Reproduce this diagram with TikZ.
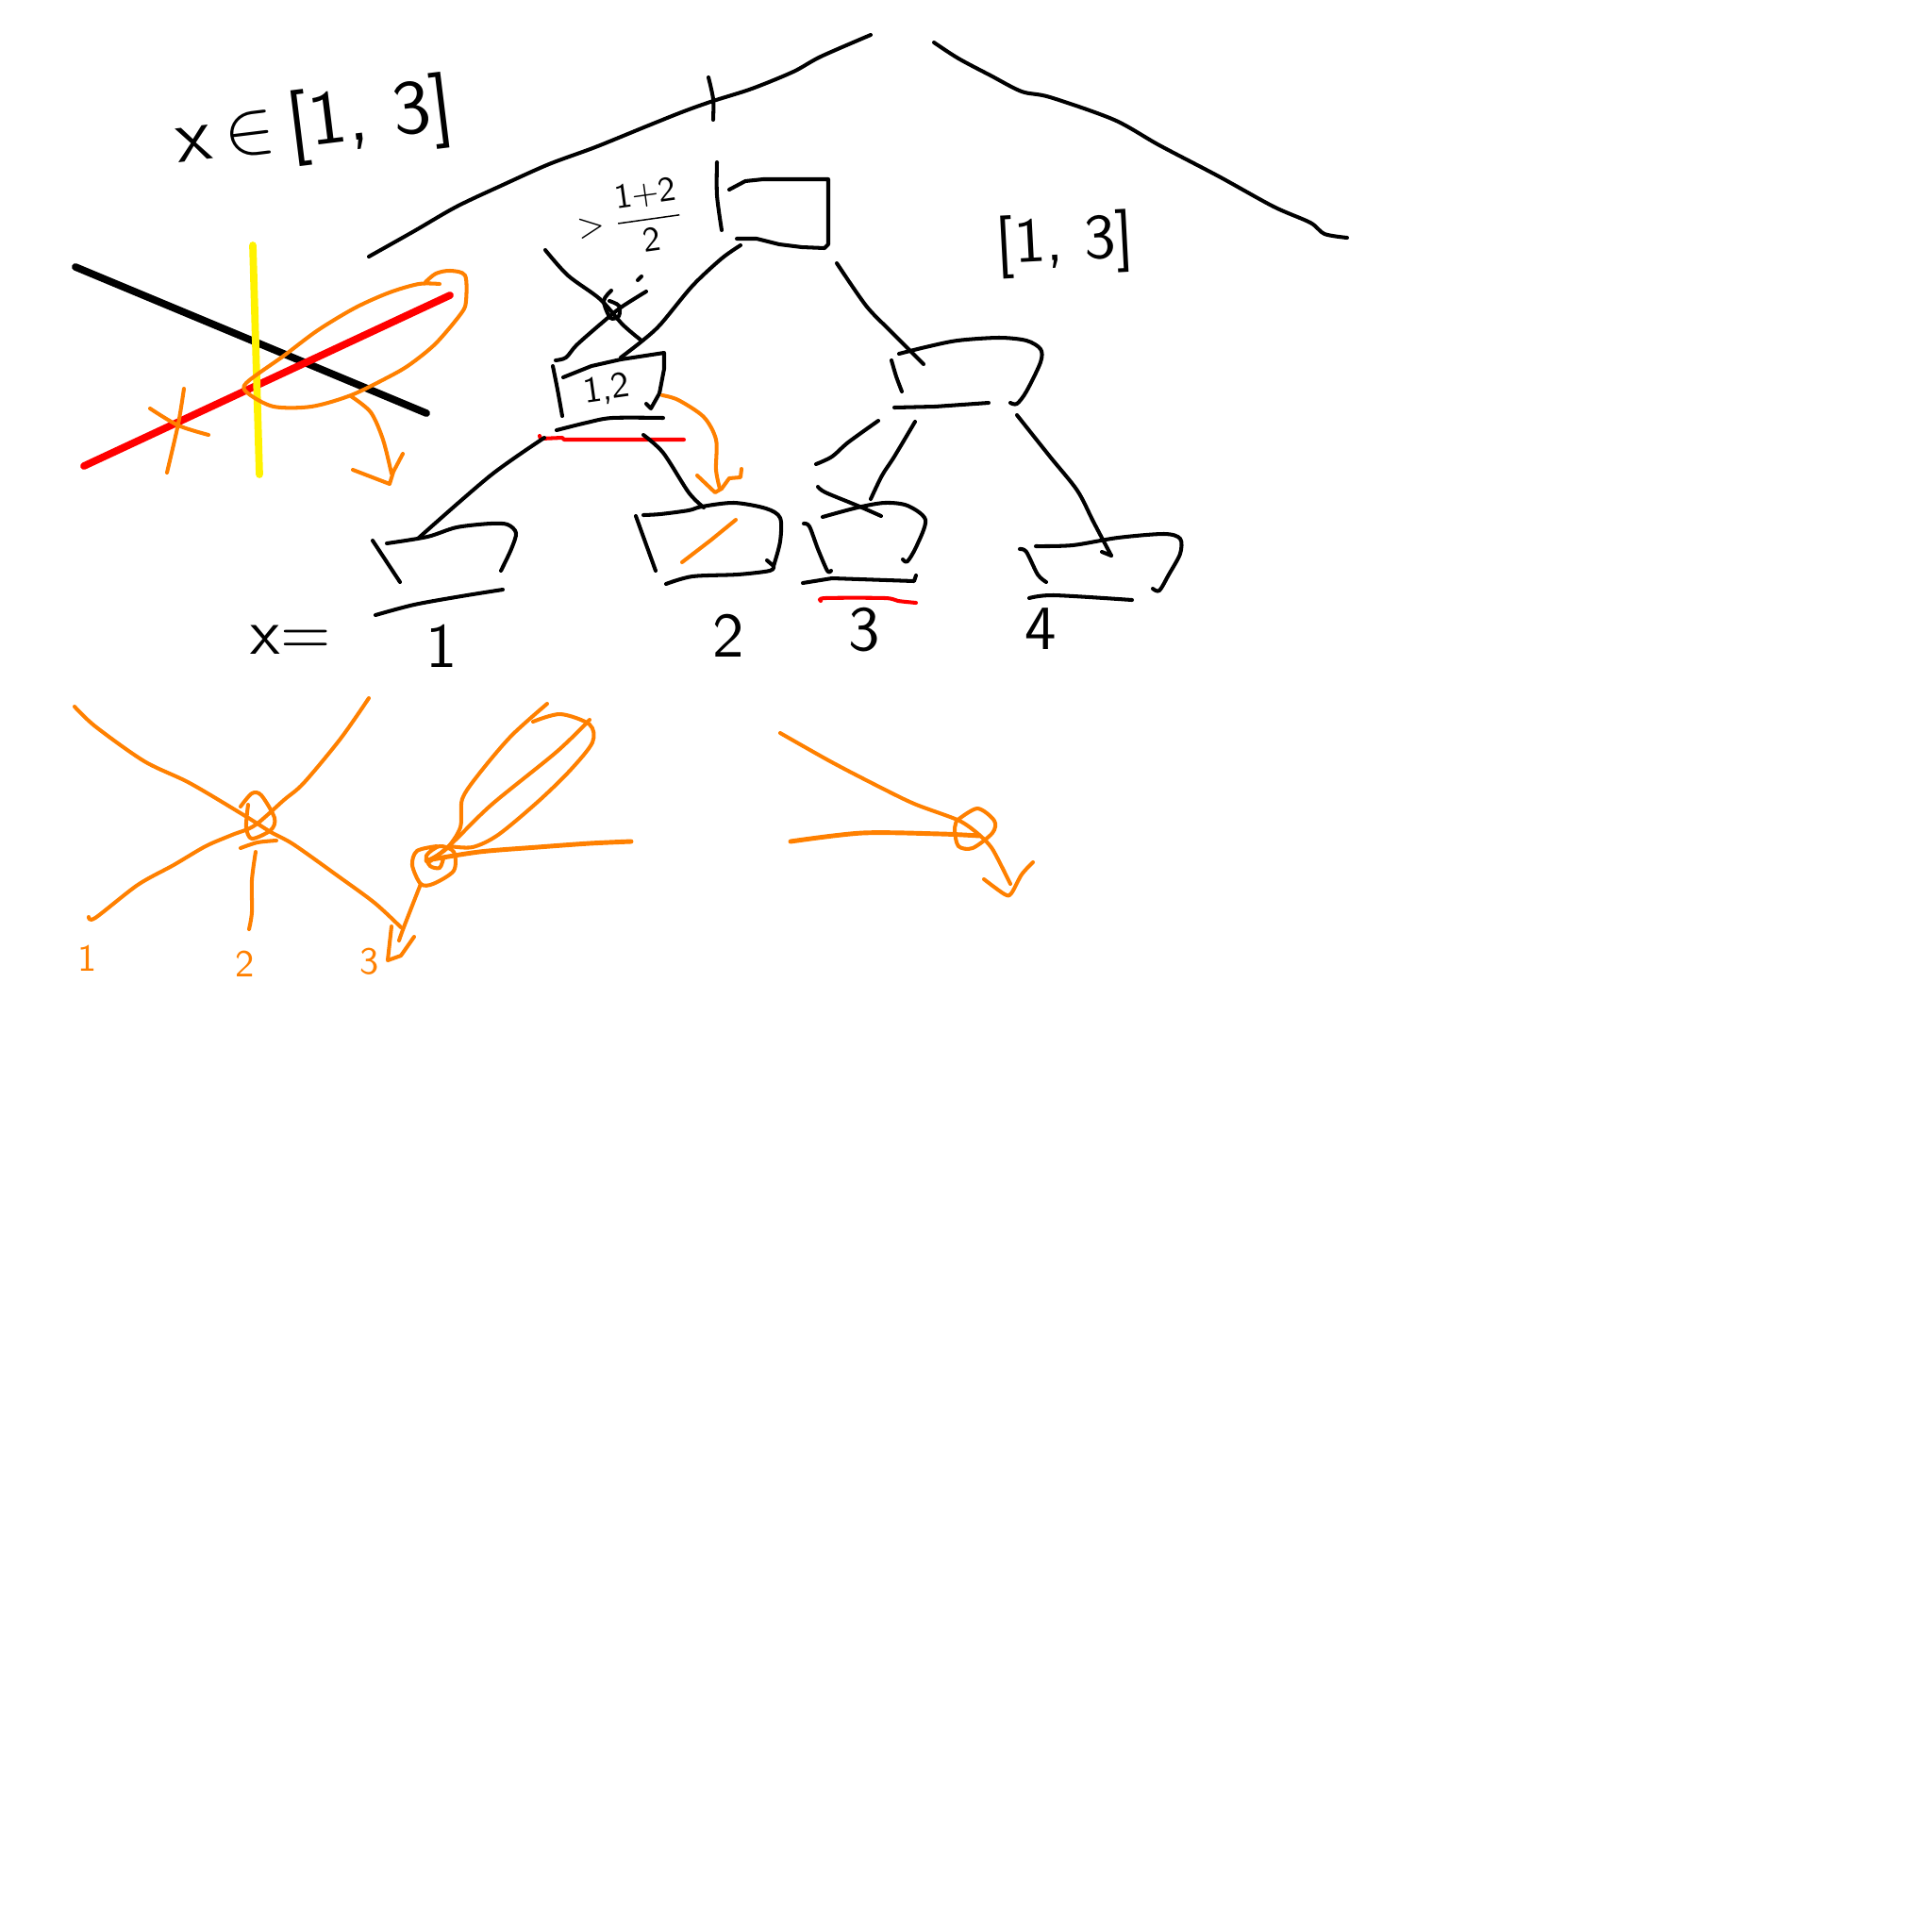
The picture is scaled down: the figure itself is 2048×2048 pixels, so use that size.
\documentclass[tikz,border=0pt]{standalone}
\usepackage{amsmath}
\usepackage{amssymb}
\tikzset{
    %Define style for pen strokes
    penk/.style={
           draw=black,
           line width=1.15pt,
           line cap=round,
           line join=round},
    peno/.style={
           penk,
           draw=inkorange},
    penr/.style={
           penk,
           draw=red},
    % Define style for the wide lines
    wide/.style={
           line width=2.2pt,
           line cap=round},
    % Define style for labels
    inktext/.style={
           font=\sffamily,
           inner sep=0pt}
}
\definecolor{inkorange}{RGB}{255,128,0}

\begin{document}
\begin{tikzpicture}[x=.01cm,y=-.01cm]
\useasboundingbox (0,0) rectangle (2048,2048);
% wide lines on the left
\draw[wide,black] (80,283) -- (452,438);
\draw[wide,red] (89,494) -- (477,313);
\draw[wide,yellow] (268,260) -- (275,503);
% hull of the red line
\draw[peno] plot[smooth] coordinates {(466,301) (444,301) (413,310) (377,326) (337,350) (301,377) (261,406) (263,417) (290,431) (330,431) (372,419) (413,399) (435,386) (462,364) (489,332) (494,319) (493,292) (477,287) (462,290) (451,299)};
\draw[peno] plot[smooth] coordinates {(372,420) (393,437) (406,466) (415,502)};
\draw[peno] (374,498) -- (413,513) -- (417,500) -- (427,481);
\draw[peno] plot[smooth] coordinates {(159,433) (189,451) (221,461)};
\draw[peno] plot[smooth] coordinates {(195,412) (189,449) (177,501)};
% top arms
\draw[penk] plot[smooth] coordinates {(391,272) (439,245) (484,219) (533,196) (582,174) (631,156) (685,134) (725,118) (756,107) (797,94) (841,76) (870,60) (923,37)};
\draw[penk] plot[smooth] coordinates {(751,82) (756,105) (756,127)};
\draw[penk] plot[smooth] coordinates {(990,45) (1016,62) (1050,80) (1083,97) (1113,103) (1181,127) (1229,154) (1292,187) (1350,219) (1389,236) (1404,248) (1428,252)};
% root box
\draw[penk] plot[smooth] coordinates {(760,172) (760,207) (765,244)};
\draw[penk] (773,201) -- (790,192) -- (809,190) -- (878,190) -- (878,259) -- (874,263) -- (850,262) -- (826,259) -- (802,253) -- (781,253);
\draw[penk] plot[smooth] coordinates {(785,260) (765,274) (734,303) (700,344) (680,362) (658,379)};
\draw[penk] plot[smooth] coordinates {(887,279) (918,324) (943,350) (979,386)};
% crossed branch
\draw[penk] plot[smooth] coordinates {(578,265) (602,292) (636,317) (660,344) (680,361)};
\draw[penk] plot[smooth] coordinates {(685,309) (658,326) (636,344) (611,366) (600,379) (589,382)};
\draw[penk] plot[smooth] coordinates {(648,308) (640,319) (647,337) (656,335) (656,324) (646,319)};
\draw[penk] (676,297) -- (680,293);
% box 1,2
\draw[penk] plot[smooth] coordinates {(586,388) (591,413) (596,441)};
\draw[penk] (597,400) -- (627,388) -- (658,381) -- (704,374) -- (704,391) -- (699,417) -- (690,433) -- (685,428);
\draw[penk] plot[smooth] coordinates {(590,456) (622,448) (649,443) (703,443)};
\draw[penr] (572,462) -- (573,465) -- (596,464) -- (598,466) -- (725,466);
\draw[penk] plot[smooth] coordinates {(577,464) (520,504) (444,570)};
\draw[penk] plot[smooth] coordinates {(682,461) (703,480) (730,522) (746,538)};
% box of x=1
\draw[penk] (395,573) -- (424,617);
\draw[penk] plot[smooth] coordinates {(410,576) (453,569) (484,559) (520,555) (538,556) (547,565) (542,582) (531,605)};
\draw[penk] plot[smooth] coordinates {(398,652) (439,641) (489,632) (533,625)};
% box of x=2
\draw[penk] (674,547) -- (695,605);
\draw[penk] plot[smooth] coordinates {(682,546) (700,545) (730,541) (744,537) (778,533) (812,539) (827,549) (827,574) (820,600)};
\draw[penk] (820,600) -- (813,594);
\draw[penk] plot[smooth] coordinates {(706,619) (734,611) (782,609) (816,605) (820,600)};
\draw[peno] (723,596) -- (753,573) -- (780,551);
\draw[peno] plot[smooth] coordinates {(702,419) (719,424) (746,442) (759,466) (759,498) (763,518)};
\draw[peno] (739,504) -- (758,522) -- (765,518) -- (773,507) -- (785,506) -- (786,497);
% right child box
\draw[penk] plot[smooth] coordinates {(945,382) (950,399) (956,415)};
\draw[penk] plot[smooth] coordinates {(953,375) (981,368) (1015,361) (1059,358) (1088,361) (1103,370) (1103,384) (1088,415) (1078,428) (1071,427)};
\draw[penk] (948,432) -- (991,431) -- (1048,427);
\draw[penk] plot[smooth] coordinates {(931,446) (899,469) (882,484) (865,492)};
\draw[penk] plot[smooth] coordinates {(867,516) (875,522) (909,536) (934,547)};
\draw[penk] plot[smooth] coordinates {(970,447) (948,484) (935,504) (923,529)};
\draw[penk] plot[smooth] coordinates {(1078,440) (1113,484) (1142,520) (1159,553) (1178,589)};
\draw[penk] (1178,589) -- (1168,585);
% box of x=3
\draw[penk] plot[smooth] coordinates {(852,555) (858,558) (867,582) (877,605) (881,605)};
\draw[penk] plot[smooth] coordinates {(872,548) (909,538) (938,533) (962,536) (981,551) (972,578) (962,595) (957,593)};
\draw[penk] (851,618) -- (882,613) -- (969,616) -- (971,610);
\draw[penr] plot[smooth] coordinates {(870,637) (875,634) (938,634) (952,637) (971,639)};
% box of x=4
\draw[penk] plot[smooth] coordinates {(1081,582) (1088,585) (1100,609) (1109,617)};
\draw[penk] plot[smooth] coordinates {(1098,579) (1137,578) (1185,570) (1234,566) (1251,571) (1251,587) (1239,609) (1229,626) (1222,624)};
\draw[penk] plot[smooth] coordinates {(1091,634) (1117,631) (1200,636)};
% curves below
\draw[peno] plot[smooth] coordinates {(79,749) (101,770) (153,807) (201,830) (260,865) (287,882) (311,895) (356,927) (397,957) (425,983)};
\draw[peno] plot[smooth] coordinates {(391,740) (361,783) (322,830) (301,848) (270,875) (246,885) (218,897) (184,917) (146,938) (101,973) (94,972)};
\draw[peno] plot[smooth] coordinates {(255,855) (267,841) (277,843) (291,867) (287,880) (267,889) (261,877) (263,853)};
\draw[peno] plot[smooth] coordinates {(255,899) (273,893) (293,891)};
\draw[peno] plot[smooth] coordinates {(271,903) (267,933) (267,967) (264,985)};
% leaf
\draw[peno] plot[smooth] coordinates {(580,746) (542,780) (508,820) (490,847) (488,877) (473,900) (452,913)};
\draw[peno] plot[smooth] coordinates {(565,765) (594,757) (625,768) (628,787) (604,817) (570,850) (528,885) (501,898) (477,897)};
\draw[peno] plot[smooth] coordinates {(625,763) (590,797) (521,853) (480,893) (456,913)};
\draw[peno] plot[smooth] coordinates {(463,897) (442,902) (437,917) (446,937) (459,937) (481,923) (481,903) (466,897) (452,907) (456,918) (466,920) (470,910)};
\draw[peno,line width=1.4pt] plot[smooth] coordinates {(452,912) (508,903) (570,898) (625,894) (669,892)};
\draw[peno] plot[smooth] coordinates {(446,937) (428,983) (423,997)};
\draw[peno] (415,982) -- (411,1018) -- (425,1013) -- (439,993);
% right curves
\draw[peno] plot[smooth] coordinates {(827,777) (880,807) (928,832) (969,852) (1017,870) (1038,885)};
\draw[peno,line width=1.4pt] plot[smooth] coordinates {(838,892) (914,883) (997,884) (1038,886)};
\draw[peno] plot[smooth] coordinates {(1014,870) (1036,857) (1054,870) (1052,883) (1031,899) (1016,897) (1012,880) (1014,870)};
\draw[peno] plot[smooth] coordinates {(1038,885) (1052,900) (1071,937)};
\draw[peno] plot[smooth] coordinates {(1043,932) (1065,948) (1072,947) (1083,927) (1095,914)};
% labels
\node[inktext,scale=2.3,rotate=7] (range) at (334,134) {x$\,\in\,$[1, 3]};
\node[inktext,scale=1.9,rotate=3] (rangeright) at (1129,259) {[1, 3]};
\node[inktext,scale=1.05,rotate=8] (split) at (668,232) {$>\dfrac{\textsf{1+2}}{\textsf{2}}$};
\node[inktext,scale=1.1,rotate=8] (boxlabel) at (643,413) {1,2};
\node[inktext,scale=1.95] (xequals) at (308,678) {x=};
\node[inktext,scale=1.9] (xone) at (468,685) {1};
\node[inktext,scale=1.9] (xtwo) at (772,674) {2};
\node[inktext,scale=1.9] (xthree) at (916,668) {3};
\node[inktext,scale=1.9] (xfour) at (1103,667) {4};
\node[inktext,scale=1.15,text=inkorange] (oone) at (93,1016) {1};
\node[inktext,scale=1.15,text=inkorange] (otwo) at (260,1022) {2};
\node[inktext,scale=1.15,text=inkorange] (othree) at (392,1019) {3};
\end{tikzpicture}
\end{document}
